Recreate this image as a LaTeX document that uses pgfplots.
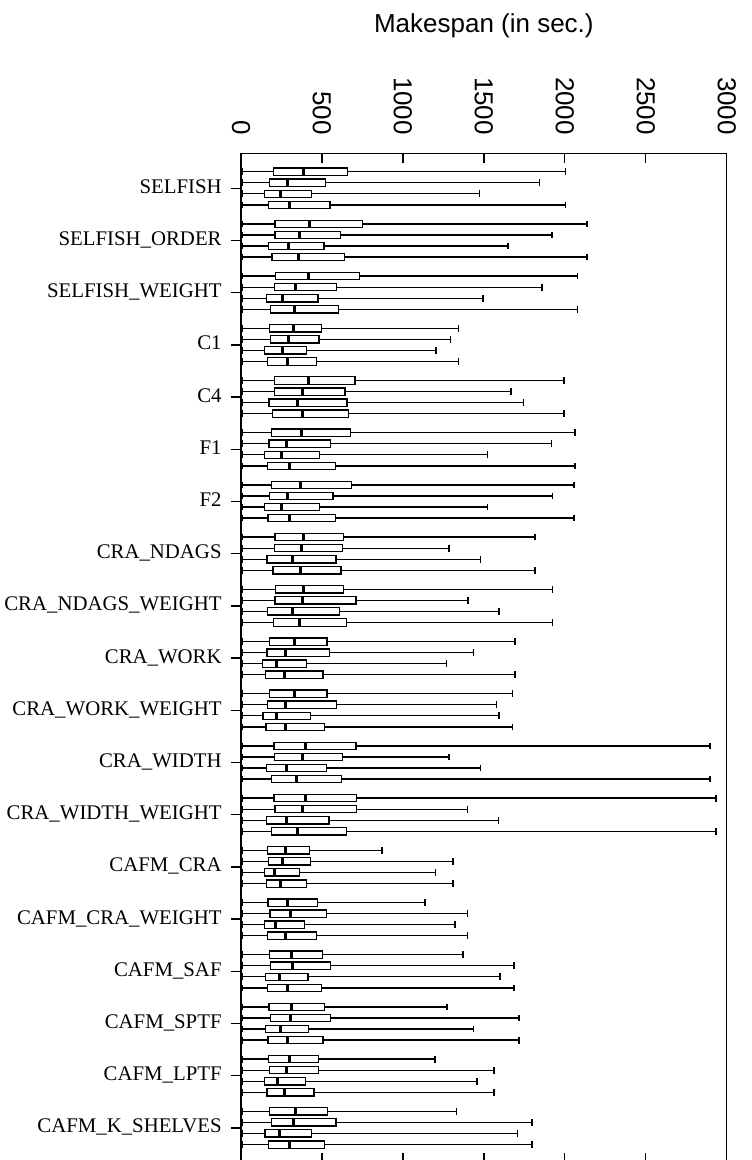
\documentclass[border=0pt]{standalone}
\usepackage{pgfplots}
\pgfplotsset{compat=1.18}
\usepgfplotslibrary{statistics}
\usepackage{fontspec}
\setmainfont{Liberation Serif}
\setsansfont{Liberation Sans}
\newcommand{\bp}[5]{\addplot[black, line width=0.65pt, boxplot prepared={draw position=#1, lower whisker=8, lower quartile=#2, median=#3, upper quartile=#4, upper whisker=#5}] coordinates {};}
\begin{document}
\begin{tikzpicture}
\begin{axis}[
 scale only axis, width=242.85pt, height=504.8pt,
 xmin=0, xmax=3000, ymin=0.3295, ymax=19.6705, y dir=reverse,
 axis line style={line width=0.7pt},
 every tick/.style={black, line width=0.65pt},
 major tick length=5pt,
 xtick={0,500,1000,1500,2000,2500,3000},
 xticklabels={0,500,1000,1500,2000,2500,3000},
 xtick pos=both, xticklabel pos=upper, xtick align=inside,
 xticklabel style={font=\sffamily\fontsize{13}{15}\selectfont, rotate=-90, anchor=east, inner sep=0pt},
 xticklabel shift=9pt,
 ytick={1,...,19},
 yticklabels={SELFISH,SELFISH\_ORDER,SELFISH\_WEIGHT,C1,C4,F1,F2,CRA\_NDAGS,CRA\_NDAGS\_WEIGHT,CRA\_WORK,CRA\_WORK\_WEIGHT,CRA\_WIDTH,CRA\_WIDTH\_WEIGHT,CAFM\_CRA,CAFM\_CRA\_WEIGHT,CAFM\_SAF,CAFM\_SPTF,CAFM\_LPTF,CAFM\_K\_SHELVES},
 ytick pos=left, ytick align=outside,
 yticklabel style={font=\fontsize{10.4}{12}\selectfont, anchor=base east, inner sep=0pt, yshift=-2.5pt},
 yticklabel shift=4.5pt,
 title={Makespan (in sec.)},
 title style={at={(0.5,1)}, anchor=base, yshift=54.2pt, font=\sffamily\fontsize{13}{15}\selectfont, inner sep=0pt},
 boxplot/box extend=0.14, boxplot/whisker extend=0.13,
 boxplot/every median/.style={line width=1.5pt},
]
% 1 SELFISH
\bp{0.682}{202}{383}{657}{2003}
\bp{0.894}{175}{286}{521}{1843}
\bp{1.106}{146}{243}{434}{1474}
\bp{1.318}{169}{299}{550}{2003}
% 2 SELFISH_ORDER
\bp{1.682}{210}{426}{749}{2137}
\bp{1.894}{210}{360}{614}{1921}
\bp{2.106}{169}{292}{513}{1649}
\bp{2.318}{191}{354}{638}{2137}
% 3 SELFISH_WEIGHT
\bp{2.682}{214}{416}{731}{2077}
\bp{2.894}{208}{338}{589}{1859}
\bp{3.106}{159}{257}{476}{1495}
\bp{3.318}{181}{329}{601}{2077}
% 4 C1
\bp{3.682}{175}{323}{496}{1342}
\bp{3.894}{183}{294}{482}{1293}
\bp{4.106}{146}{255}{406}{1204}
\bp{4.318}{165}{286}{467}{1342}
% 5 C4
\bp{4.682}{208}{420}{704}{1995}
\bp{4.894}{206}{379}{642}{1668}
\bp{5.106}{173}{348}{655}{1744}
\bp{5.318}{196}{381}{665}{1995}
% 6 F1
\bp{5.682}{189}{371}{677}{2063}
\bp{5.894}{173}{282}{552}{1919}
\bp{6.106}{146}{251}{484}{1524}
\bp{6.318}{165}{299}{583}{2063}
% 7 F2
\bp{6.682}{189}{366}{682}{2057}
\bp{6.894}{175}{286}{568}{1923}
\bp{7.106}{146}{251}{484}{1524}
\bp{7.318}{167}{299}{585}{2057}
% 8 CRA_NDAGS
\bp{7.682}{210}{389}{634}{1816}
\bp{7.894}{208}{375}{626}{1285}
\bp{8.106}{161}{321}{587}{1480}
\bp{8.318}{198}{366}{618}{1816}
% 9 CRA_NDAGS_WEIGHT
\bp{8.682}{212}{389}{634}{1923}
\bp{8.894}{210}{377}{710}{1402}
\bp{9.106}{163}{319}{609}{1594}
\bp{9.318}{200}{364}{651}{1923}
% 10 CRA_WORK
\bp{9.682}{175}{329}{531}{1692}
\bp{9.894}{161}{272}{546}{1435}
\bp{10.106}{134}{218}{406}{1268}
\bp{10.318}{152}{268}{506}{1692}
% 11 CRA_WORK_WEIGHT
\bp{10.682}{175}{331}{531}{1678}
\bp{10.894}{165}{274}{589}{1579}
\bp{11.106}{136}{218}{428}{1594}
\bp{11.318}{154}{272}{517}{1678}
% 12 CRA_WIDTH
\bp{11.682}{204}{399}{710}{2897}
\bp{11.894}{208}{377}{626}{1285}
\bp{12.106}{159}{280}{529}{1478}
\bp{12.318}{187}{344}{622}{2897}
% 13 CRA_WIDTH_WEIGHT
\bp{12.682}{204}{401}{712}{2934}
\bp{12.894}{210}{377}{712}{1400}
\bp{13.106}{159}{280}{544}{1592}
\bp{13.318}{189}{348}{653}{2934}
% 14 CAFM_CRA
\bp{13.682}{163}{272}{422}{871}
\bp{13.894}{171}{257}{430}{1309}
\bp{14.106}{146}{206}{362}{1200}
\bp{14.318}{156}{247}{403}{1309}
% 15 CAFM_CRA_WEIGHT
\bp{14.682}{167}{290}{471}{1136}
\bp{14.894}{179}{303}{529}{1400}
\bp{15.106}{146}{216}{393}{1322}
\bp{15.318}{163}{272}{467}{1400}
% 16 CAFM_SAF
\bp{15.682}{175}{309}{502}{1371}
\bp{15.894}{181}{319}{552}{1686}
\bp{16.106}{152}{237}{414}{1600}
\bp{16.318}{165}{288}{498}{1686}
% 17 CAFM_SPTF
\bp{16.682}{173}{311}{515}{1272}
\bp{16.894}{181}{307}{552}{1717}
\bp{17.106}{152}{243}{418}{1437}
\bp{17.318}{167}{288}{506}{1717}
% 18 CAFM_LPTF
\bp{17.682}{171}{297}{480}{1198}
\bp{17.894}{175}{278}{478}{1563}
\bp{18.106}{146}{226}{399}{1458}
\bp{18.318}{161}{266}{451}{1563}
% 19 CAFM_K_SHELVES
\bp{18.682}{177}{336}{535}{1330}
\bp{18.894}{187}{323}{587}{1797}
\bp{19.106}{148}{239}{434}{1709}
\bp{19.318}{169}{299}{517}{1797}
\end{axis}
\pgfresetboundingbox
\path[use as bounding box] ([xshift=-120.5pt,yshift=1.45pt]current axis.south west) rectangle ([xshift=12.15pt,yshift=76.65pt]current axis.north east);
\end{tikzpicture}
\end{document}
